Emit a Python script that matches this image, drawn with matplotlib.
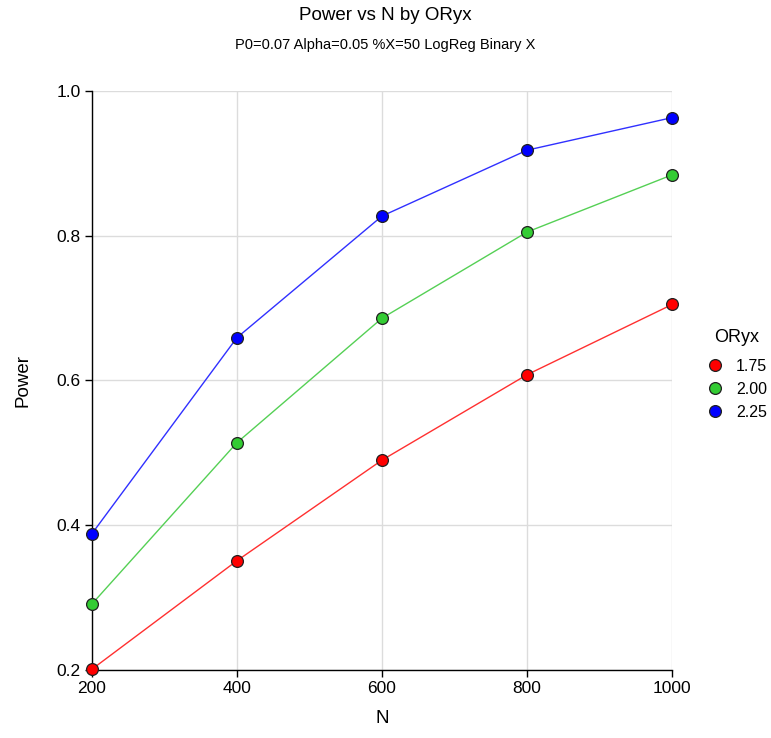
import matplotlib
matplotlib.use('Agg')
import matplotlib.pyplot as plt

plt.rcParams['font.family'] = ['Liberation Sans', 'DejaVu Sans']

n_values = [200, 400, 600, 800, 1000]
oryx_labels = ['1.75', '2.00', '2.25']
power_175 = [0.201, 0.351, 0.490, 0.608, 0.705]
power_200 = [0.291, 0.514, 0.686, 0.805, 0.884]
power_225 = [0.388, 0.659, 0.827, 0.918, 0.963]

series = [power_175, power_200, power_225]
line_colors = ['#ff3030', '#55d055', '#3030ff']
fill_colors = ['#ff0000', '#33cc33', '#0000ff']


def draw_pic():
    fig = plt.figure(figsize=(7.71, 7.38), dpi=100)
    ax = fig.add_axes([0.119, 0.092, 0.753, 0.785])

    for vals, lab, lc, fc in zip(series, oryx_labels, line_colors, fill_colors):
        ax.plot(n_values, vals, '-', color=lc, lw=1.0, marker='o', ms=8.5,
                mfc=fc, mec='#202020', mew=0.9, label=lab, clip_on=False, zorder=3)

    ax.set_xlim(200, 1000)
    ax.set_ylim(0.2, 1.0)
    ax.set_xticks(n_values)
    ax.set_yticks([0.2, 0.4, 0.6, 0.8, 1.0])
    ax.set_yticklabels(['0.2', '0.4', '0.6', '0.8', '1.0'])
    ax.grid(True, color='#dcdcdc', lw=1.0)
    ax.set_axisbelow(True)
    for s in ['top', 'right']:
        ax.spines[s].set_visible(False)
    for s in ['left', 'bottom']:
        ax.spines[s].set_color('black')
        ax.spines[s].set_linewidth(1.0)
    ax.tick_params(labelsize=12.5, length=5, width=1, pad=3)

    ax.set_xlabel('N', fontsize=13.5, labelpad=10)
    ax.set_ylabel('Power', fontsize=13.5, labelpad=18)

    fig.text(0.5, 0.979, 'Power vs N by ORyx', ha='center', va='center', fontsize=13.5)
    fig.text(0.5, 0.939, 'P0=0.07 Alpha=0.05 %X=50 LogReg Binary X',
             ha='center', va='center', fontsize=10.5)

    leg = ax.legend(title='ORyx', loc='center left', bbox_to_anchor=(1.035, 0.51),
                    frameon=False, fontsize=11.5, title_fontsize=13,
                    handlelength=1.0, handletextpad=0.8, labelspacing=0.5)
    leg._legend_box.sep = 9
    for h in leg.legend_handles:
        h.set_linestyle('None')

    fig.savefig('out.png')


if __name__ == '__main__':
    draw_pic()
